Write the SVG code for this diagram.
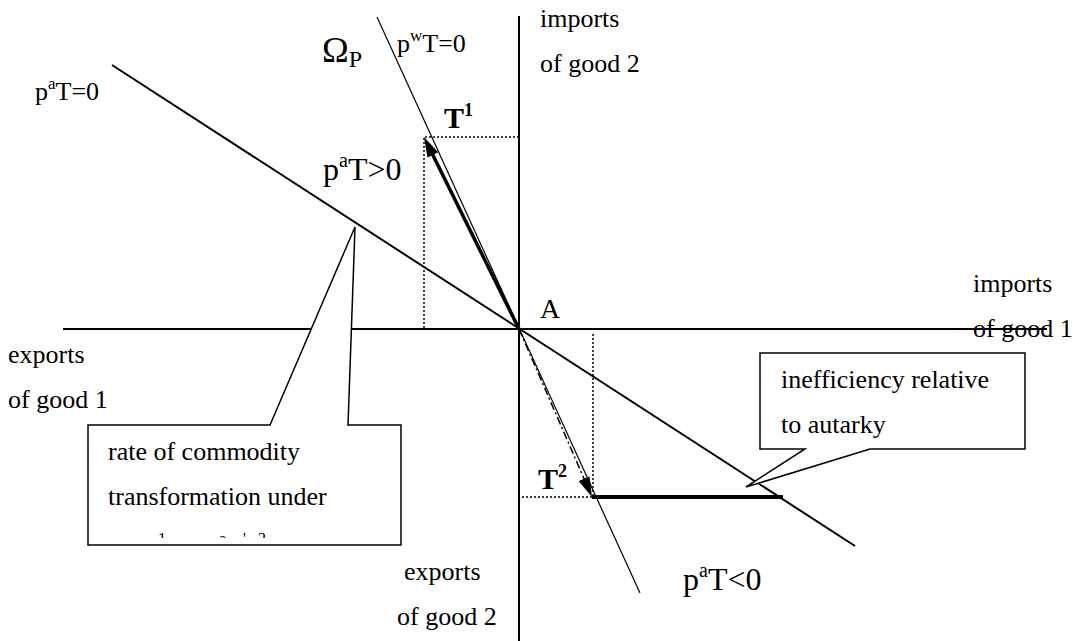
<svg xmlns="http://www.w3.org/2000/svg" width="1075" height="641" viewBox="0 0 1075 641">
<style>
text{font-family:"Liberation Serif","Times New Roman",serif;fill:#000;font-size:26px}
.b{font-weight:bold}
.ax{stroke:#000;stroke-width:2;fill:none}
.thin{stroke:#000;stroke-width:1.2;fill:none}
.dot{stroke:#000;stroke-width:1.5;stroke-dasharray:2 2;fill:none}
.box{stroke:#000;stroke-width:1.5;fill:#fff}
</style>
<defs>
<marker id="ah" markerUnits="userSpaceOnUse" viewBox="0 0 20 12" refX="10" refY="6" markerWidth="20" markerHeight="12" orient="auto">
<path d="M0,0 L20,6 L0,12 z" fill="#000"/>
</marker>
<clipPath id="c1"><rect x="90" y="426" width="309" height="112"/></clipPath>
</defs>

<g id="connectors">
<line class="ax" x1="519" y1="16" x2="519" y2="641"/>
<line class="ax" x1="63" y1="329" x2="1047" y2="329"/>
<line class="ax" x1="112" y1="65" x2="855" y2="546"/>
<line class="thin" x1="377" y1="17" x2="640" y2="593"/>
<polyline class="dot" points="424,328 424,137 518,137"/>
<polyline class="dot" points="522,497 593,497 593,332"/>
<line stroke="#000" stroke-width="3.5" x1="519" y1="329" x2="428.4" y2="146" marker-end="url(#ah)"/>
<line stroke="#000" stroke-width="1.5" stroke-dasharray="8 3 2 3" x1="519" y1="329" x2="588" y2="487.8" marker-end="url(#ah)"/>
<line stroke="#000" stroke-width="4" x1="592" y1="497" x2="783" y2="497"/>
</g>

<g id="callout-rate">
<path class="box" d="M88,425 L270,425 L355,227 L348,425 L401,425 L401,545 L88,545 Z"/>
<text x="108" y="460">rate of commodity</text>
<text x="108" y="505">transformation under</text>
<g clip-path="url(#c1)">
<text x="158" y="544" style="font-size:16px">1</text>
<text x="219" y="544" style="font-size:16px">a</text>
<text x="243" y="544" style="font-size:16px">'</text>
<text x="258" y="544" style="font-size:16px">2</text>
</g>
</g>

<g id="callout-ineff">
<path class="box" d="M760,353 L1025,353 L1025,449 L870,449 L746,487 L805,449 L760,449 Z"/>
<text x="781" y="388">inefficiency relative</text>
<text x="781" y="433">to autarky</text>
</g>

<g id="labels">
<text x="35" y="100">p<tspan dy="-11" style="font-size:17px">a</tspan><tspan dy="11">T=0</tspan></text>
<text x="322" y="62" style="font-size:36px">Ω<tspan dy="5" style="font-size:24px">P</tspan></text>
<text x="397" y="52">p<tspan dy="-11" style="font-size:17px">w</tspan><tspan dy="11">T=0</tspan></text>
<text x="540" y="27">imports</text>
<text x="540" y="72">of good 2</text>
<text class="b" x="444" y="128" style="font-size:30px">T<tspan dy="-12" style="font-size:18px">1</tspan></text>
<text x="323" y="180" style="font-size:32px">p<tspan dy="-13" style="font-size:20px">a</tspan><tspan dy="13">T&gt;0</tspan></text>
<text x="540" y="318" style="font-size:28px">A</text>
<text x="973" y="292">imports</text>
<text x="973" y="337">of good 1</text>
<text x="8" y="363">exports</text>
<text x="8" y="408">of good 1</text>
<text class="b" x="538" y="489" style="font-size:30px">T<tspan dy="-12" style="font-size:18px">2</tspan></text>
<text x="404" y="580">exports</text>
<text x="397" y="625">of good 2</text>
<text x="683" y="590" style="font-size:32px">p<tspan dy="-13" style="font-size:20px">a</tspan><tspan dy="13">T&lt;0</tspan></text>
</g>
</svg>
